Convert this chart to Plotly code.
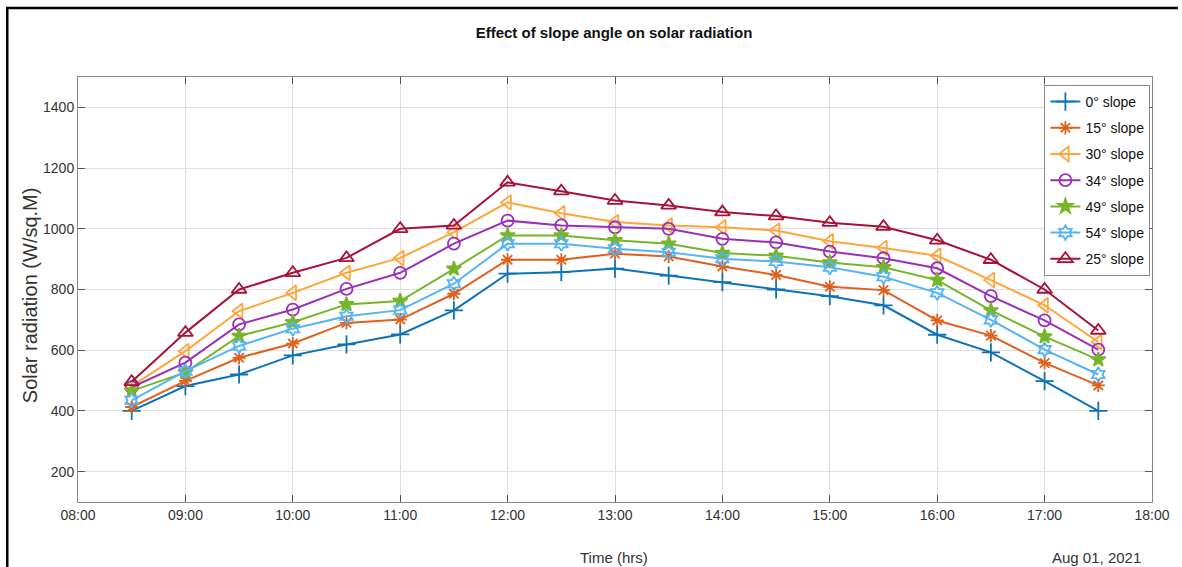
import plotly.graph_objects as go

# Measurement times on 1 Aug 2021 (half-hourly)
times = ["08:30", "09:00", "09:30", "10:00", "10:30", "11:00", "11:30", "12:00", "12:30", "13:00",
         "13:30", "14:00", "14:30", "15:00", "15:30", "16:00", "16:30", "17:00", "17:30"]
date = "2021-08-01"

# Solar radiation (W/sq.M) for each slope angle
slope_0 = [400, 482, 520, 583, 619, 652, 731, 852, 857, 869, 846, 824, 800, 778, 748, 651, 593, 498, 400]
slope_15 = [413, 499, 575, 622, 690, 701, 786, 898, 898, 918, 909, 876, 848, 809, 798, 698, 648, 558, 484]
slope_30 = [482, 597, 729, 789, 855, 904, 989, 1087, 1051, 1022, 1011, 1005, 994, 959, 937, 911, 831, 748, 627]
slope_34 = [478, 559, 685, 734, 802, 855, 951, 1027, 1011, 1005, 1000, 967, 955, 925, 903, 870, 778, 698, 602]
slope_49 = [466, 527, 647, 692, 751, 762, 868, 978, 978, 962, 951, 920, 911, 889, 873, 831, 731, 645, 569]
slope_54 = [435, 531, 614, 671, 712, 732, 819, 951, 951, 934, 923, 901, 892, 873, 842, 789, 700, 602, 520]
slope_25 = [496, 658, 800, 855, 904, 1000, 1011, 1153, 1124, 1093, 1077, 1055, 1042, 1020, 1007, 962, 898, 800, 665]

names = ["0° slope", "15° slope", "30° slope", "34° slope", "49° slope", "54° slope", "25° slope"]
series = [slope_0, slope_15, slope_30, slope_34, slope_49, slope_54, slope_25]
colors = ["#0E72B8", "#E0601E", "#FFA53A", "#9A2FB8", "#77B52A", "#55B4F5", "#A8113A"]
symbols = ["cross-thin-open", "asterisk-open", "triangle-left-open", "circle-open",
           "star", "hexagram-open", "triangle-up-open"]
sizes = [13, 11, 13, 12, 11, 11, 13]

x = [f"{date} {t}" for t in times]

fig = go.Figure()
for i, (name, ys, col, sym, sz) in enumerate(zip(names, series, colors, symbols, sizes)):
    fig.add_trace(go.Scatter(
        x=x, y=ys, name=name, mode="lines+markers",
        legendgroup=f"g{i}",
        line=dict(color=col, width=2),
        marker=dict(symbol=sym, size=sz, color=col, line=dict(color=col, width=1.8)),
    ))

narrow = "Liberation Sans Narrow, Arial Narrow, Liberation Sans, Arial"
tick_font = dict(family=narrow, size=14, color="#333333")

# Plot area in pixels: left 78, right 1156, top 77, bottom 502
W, H = 1182, 567
L, R, T, B = 78, 1156, 77, 502
pw, ph = R - L, B - T


def px(xp):
    return (xp - L) / pw


def py(yp):
    return (B - yp) / ph


fig.update_layout(
    width=W, height=H,
    margin=dict(l=L, r=W - R, t=T, b=H - B),
    paper_bgcolor="white", plot_bgcolor="white",
    title=dict(
        text="<b>Effect of slope angle on solar radiation</b>",
        x=px(616), xref="paper", xanchor="center",
        y=1 - 33 / H, yanchor="middle",
        font=dict(family=narrow, size=15, color="#111111"),
    ),
    xaxis=dict(
        type="date",
        range=[f"{date} 08:00", f"{date} 18:00"],
        dtick=3600000, tickformat="%H:%M",
        tickfont=tick_font,
        showgrid=True, gridcolor="#DEDEDE", gridwidth=1,
        showline=True, linecolor="#8A8A8A", linewidth=1, mirror="ticks",
        ticks="inside", ticklen=7, tickcolor="#555555",
        zeroline=False,
    ),
    yaxis=dict(
        range=[100, 1500],
        tickvals=[200, 400, 600, 800, 1000, 1200, 1400],
        tickfont=tick_font,
        showgrid=True, gridcolor="#DEDEDE", gridwidth=1,
        showline=True, linecolor="#8A8A8A", linewidth=1, mirror="ticks",
        ticks="inside", ticklen=7, tickcolor="#555555",
        zeroline=False,
    ),
    legend=dict(
        x=px(1048), xanchor="left",
        y=py(85), yanchor="top",
        bgcolor="white", bordercolor="#8A8A8A", borderwidth=1,
        font=dict(family=narrow, size=14, color="#111111"),
        tracegroupgap=5,
        itemwidth=30,
    ),
    showlegend=True,
)

# Y-axis caption
fig.add_annotation(text="Solar radiation (W/sq.M)", xref="paper", yref="paper",
                   x=px(30), y=py(295), xanchor="center", yanchor="middle", textangle=-90,
                   showarrow=False,
                   font=dict(family="Liberation Sans, Arial", size=20, color="#333333"))

# Axis caption and date stamp below the time axis
fig.add_annotation(text="Time (hrs)", xref="paper", yref="paper",
                   x=px(616), y=py(557), xanchor="center", yanchor="middle",
                   showarrow=False, font=dict(family=narrow, size=15, color="#333333"))
fig.add_annotation(text="Aug 01, 2021", xref="paper", yref="paper",
                   x=px(1100), y=py(557), xanchor="center", yanchor="middle",
                   showarrow=False, font=dict(family=narrow, size=15, color="#333333"))

# Outer figure border (left and top edges)
fig.add_shape(type="path", xref="paper", yref="paper",
              path=f"M {px(7)},{py(H + 20)} L {px(7)},{py(8)} L {px(W)},{py(8)}",
              line=dict(color="black", width=2.5))

fig.write_html("out.html")
